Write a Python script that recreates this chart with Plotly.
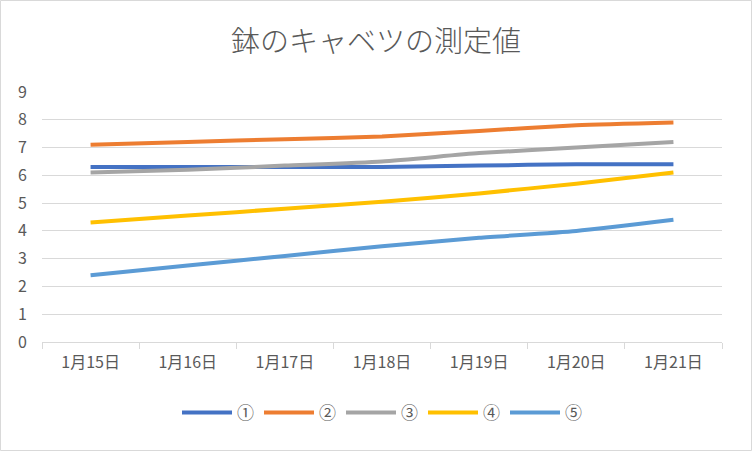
import plotly.graph_objects as go

# 鉢のキャベツの測定値
dates = ["1月15日", "1月16日", "1月17日", "1月18日", "1月19日", "1月20日", "1月21日"]
names = ["①", "②", "③", "④", "⑤"]
s1 = [6.3, 6.3, 6.3, 6.3, 6.35, 6.4, 6.4]
s2 = [7.1, 7.2, 7.3, 7.4, 7.6, 7.8, 7.9]
s3 = [6.1, 6.2, 6.35, 6.5, 6.8, 7.0, 7.2]
s4 = [4.3, 4.55, 4.8, 5.05, 5.35, 5.7, 6.1]
s5 = [2.4, 2.75, 3.1, 3.45, 3.75, 4.0, 4.4]
colors = ["#4472C4", "#ED7D31", "#A5A5A5", "#FFC000", "#5B9BD5"]

FONT = "Noto Sans CJK JP"
GRID = "#D9D9D9"
TEXT = "#595959"

fig = go.Figure()
for name, ys, c in zip(names, [s1, s2, s3, s4, s5], colors):
    fig.add_trace(go.Scatter(
        x=dates, y=ys, name=name, mode="lines",
        line=dict(color=c, width=4, shape="spline", smoothing=0.6),
    ))

fig.update_layout(
    width=752, height=451,
    margin=dict(l=42, r=30, t=92, b=109, autoexpand=False),
    paper_bgcolor="white", plot_bgcolor="white",
    font=dict(family=FONT, color=TEXT, size=15),
    title=dict(text="鉢のキャベツの測定値", x=0.5, xanchor="center",
               y=1 - 42 / 451, yanchor="middle",
               font=dict(size=29, color=TEXT, family=FONT, weight=300)),
    legend=dict(orientation="h", x=0.5, xanchor="center", y=-0.284, yanchor="middle",
                font=dict(size=17, color=TEXT), itemwidth=50, tracegroupgap=0),
    xaxis=dict(type="category", range=[-0.5, 6.5], showgrid=False, automargin=False,
               showline=True, linecolor=GRID, linewidth=1,
               ticks="outside", tickson="boundaries", ticklen=6, tickcolor=GRID,
               ticklabelstandoff=6, tickfont=dict(size=16, color=TEXT)),
    yaxis=dict(range=[0, 9], dtick=1, showgrid=True, gridcolor=GRID, gridwidth=1,
               zeroline=False, showline=False, ticks="", automargin=False,
               ticklabelstandoff=14, tickfont=dict(size=16, color=TEXT)),
    shapes=[dict(type="rect", xref="paper", yref="paper",
                 x0=-41.5 / 680, x1=1 + 29.5 / 680, y0=-108.5 / 250, y1=1 + 91.5 / 250,
                 line=dict(color=GRID, width=1), layer="below")],
)

fig.write_html("out.html", config={"displayModeBar": False},
               post_script="document.body.style.margin='0';")
